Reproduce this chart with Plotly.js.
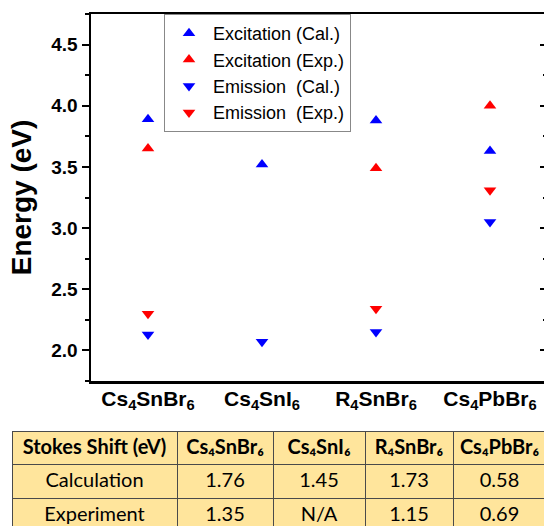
<!DOCTYPE html>
<html>
<head>
<meta charset="utf-8">
<script src="https://cdn.plot.ly/plotly-3.0.1.min.js"></script>
<style>
html, body { margin: 0; padding: 0; overflow: hidden; background: #fff; }
#chart { width: 548px; height: 540px; }
</style>
</head>
<body>
<div id="chart"></div>
<script>
// ---- data ----
const categories = ['Cs4SnBr6', 'Cs4SnI6', 'R4SnBr6', 'Cs4PbBr6'];
const categoryLabels = ['Cs<sub>4</sub>SnBr<sub>6</sub>', 'Cs<sub>4</sub>SnI<sub>6</sub>', 'R<sub>4</sub>SnBr<sub>6</sub>', 'Cs<sub>4</sub>PbBr<sub>6</sub>'];
const excitationCal = [3.89, 3.52, 3.88, 3.63];
const excitationExp = [3.65, null, 3.49, 4.00];
const emissionCal = [2.13, 2.07, 2.15, 3.05];
const emissionExp = [2.30, null, 2.34, 3.31];
const seriesNames = ['Excitation (Cal.)', 'Excitation (Exp.)', 'Emission\u00A0 (Cal.)', 'Emission\u00A0 (Exp.)'];
const tableHeader = ['Stokes\u00A0Shift\u00A0(eV)', 'Cs\u2084SnBr\u2086', 'Cs\u2084SnI\u2086', 'R\u2084SnBr\u2086', 'Cs\u2084PbBr\u2086'];
const rowLabels = ['Calculation', 'Experiment'];
const shiftCalc = ['1.76', '1.45', '1.73', '0.58'];
const shiftExp = ['1.35', 'N/A', '1.15', '0.69'];

// ---- layout helpers ----
const W = 548, H = 540;
const mL = 0, mR = 1, mT = 14, mB = 0;
const plotW = W - mL - mR, plotH = H - mT - mB;
const axLeftPx = 91, axBottomPx = 381;
const tblLeftPx = 12, tblRightPx = 546, tblTopPx = 431;

const mk = (sym, col) => ({ symbol: sym, size: 11, color: col, line: { width: 0 } });
function sc(y, name, sym, col) {
  return { type: 'scatter', mode: 'markers', x: categories, y: y, name: name,
           marker: mk(sym, col), xaxis: 'x', yaxis: 'y', cliponaxis: false };
}
const traces = [
  sc(excitationCal, seriesNames[0], 'triangle-up', '#0000FF'),
  sc(excitationExp, seriesNames[1], 'triangle-up', '#FF0000'),
  sc(emissionCal, seriesNames[2], 'triangle-down', '#0000FF'),
  sc(emissionExp, seriesNames[3], 'triangle-down', '#FF0000'),
  { type: 'scatter', mode: 'markers', x: [], y: [], xaxis: 'x', yaxis: 'y2', showlegend: false, hoverinfo: 'skip' }
];

const cellCols = [rowLabels];
for (let i = 0; i < categories.length; i++) cellCols.push([shiftCalc[i], shiftExp[i]]);

traces.push({
  type: 'table',
  domain: { x: [(tblLeftPx - mL) / plotW, (tblRightPx - mL) / plotW], y: [0, (H - mB - tblTopPx) / plotH] },
  columnwidth: [165, 96, 92, 88, 93],
  header: {
    values: tableHeader,
    align: 'center', height: 33,
    fill: { color: '#FFE59C' },
    line: { color: '#4a4a4a', width: 1 },
    font: { family: 'Lato, Carlito, sans-serif', size: 20, weight: 'bold', color: '#000' }
  },
  cells: {
    values: cellCols,
    align: 'center', height: 34,
    fill: { color: '#FFE59C' },
    line: { color: '#4a4a4a', width: 1 },
    font: { family: 'Lato, Carlito, sans-serif', size: 20, color: '#000' }
  }
});

const yRange = [1.75, 4.75];
const yDomain = [(H - mB - axBottomPx) / plotH, 1];
const layout = {
  width: W, height: H,
  margin: { l: mL, r: mR, t: mT, b: mB, pad: 0 },
  paper_bgcolor: '#fff', plot_bgcolor: '#fff',
  showlegend: true,
  font: { family: 'Liberation Sans, Arial, sans-serif', color: '#000' },
  xaxis: {
    type: 'category', domain: [(axLeftPx - mL) / plotW, 1], anchor: 'y',
    range: [-0.5, 3.5],
    tickvals: categories, ticktext: categoryLabels,
    ticks: '', showgrid: false, zeroline: false,
    showline: true, linecolor: '#000', linewidth: 2.5, mirror: true,
    tickfont: { family: 'Liberation Sans, Arial, sans-serif', size: 21, weight: 'bold', color: '#000' },
    ticklabelstandoff: -3,
    fixedrange: true
  },
  yaxis: {
    domain: yDomain, anchor: 'x', range: yRange,
    dtick: 0.5, tick0: 2.0, tickformat: '.1f',
    ticks: 'outside', ticklen: 7, tickwidth: 2, tickcolor: '#000',
    minor: { dtick: 0.25, tick0: 2.0, ticks: 'outside', ticklen: 4, tickwidth: 2, tickcolor: '#000' },
    showgrid: false, zeroline: false,
    showline: true, linecolor: '#000', linewidth: 2.5, mirror: true,
    tickfont: { family: 'Liberation Sans, Arial, sans-serif', size: 19, weight: 'bold', color: '#000' },
    title: { text: 'Energy (eV)', font: { family: 'Liberation Sans, Arial, sans-serif', size: 28, weight: 'bold', color: '#000' }, standoff: 12 },
    fixedrange: true
  },
  yaxis2: {
    overlaying: 'y', side: 'right', anchor: 'x', range: yRange,
    dtick: 0.5, tick0: 2.0,
    ticks: 'inside', ticklen: 7, tickwidth: 2, tickcolor: '#000',
    minor: { dtick: 0.25, tick0: 2.0, ticks: 'inside', ticklen: 4, tickwidth: 2, tickcolor: '#000' },
    showticklabels: false, showgrid: false, zeroline: false, showline: false,
    fixedrange: true
  },
  legend: {
    x: (164 - mL) / plotW, y: 1, xanchor: 'left', yanchor: 'top',
    bgcolor: '#fff', bordercolor: '#888', borderwidth: 1,
    itemwidth: 38,
    font: { family: 'Liberation Sans, Arial, sans-serif', size: 18, color: '#000' },
    traceorder: 'normal'
  }
};

Plotly.newPlot('chart', traces, layout, { staticPlot: true, displayModeBar: false });
</script>
</body>
</html>
